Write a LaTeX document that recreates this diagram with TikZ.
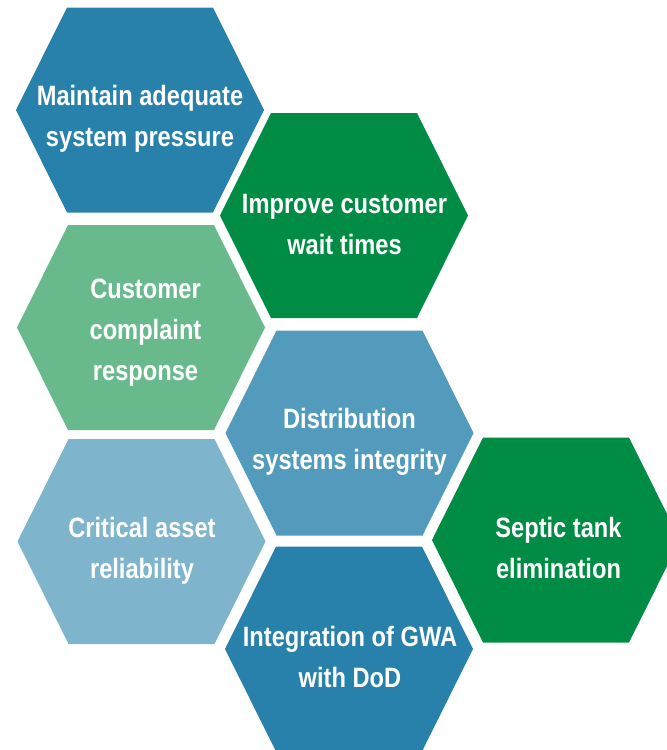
\documentclass[tikz,border=0pt]{standalone}
\usepackage{fontspec}
\newfontfamily\hexfont{Liberation Sans}[FakeStretch=0.845]
\definecolor{HexBlue}{RGB}{40,129,171}
\definecolor{HexGreen}{RGB}{0,140,69}
\definecolor{HexLightGreen}{RGB}{104,186,141}
\definecolor{HexMidBlue}{RGB}{82,155,189}
\definecolor{HexPaleBlue}{RGB}{126,180,204}
\tikzset{
  hextext/.style={text=white, align=center, inner sep=0pt,
    font=\hexfont\bfseries\fontsize{21}{30.75}\selectfont}
}

\begin{document}
\begin{tikzpicture}[x=0.75pt, y=-0.75pt]
	\clip (0,0) rectangle (667,750);
	\foreach \name/\cx/\cy/\tx/\ty/\col/\txt in {
	  pressure/140/110/140/119/HexBlue/{Maintain adequate\\system pressure},
	  wait/344/215.5/344.5/224.5/HexGreen/{Improve customer\\wait times},
	  complaint/141/327.5/145.5/332.5/HexLightGreen/{Customer\\complaint\\response},
	  integrity/349.5/433/349.5/442/HexMidBlue/{Distribution\\systems integrity},
	  asset/141.5/541.5/142/551/HexPaleBlue/{Critical asset\\reliability},
	  septic/556/540/558.5/547.5/HexGreen/{Septic tank\\elimination},
	  dod/349/649/350/657/HexBlue/{Integration of GWA\\with DoD}}
	{
	  \fill[\col] (\cx-124,\cy) -- (\cx-73,\cy-102.5) -- (\cx+73,\cy-102.5)
	    -- (\cx+124,\cy) -- (\cx+73,\cy+102.5) -- (\cx-73,\cy+102.5) -- cycle;
	  \node[hextext] (\name) at (\tx,\ty) {\txt};
	}
\end{tikzpicture}
\end{document}
